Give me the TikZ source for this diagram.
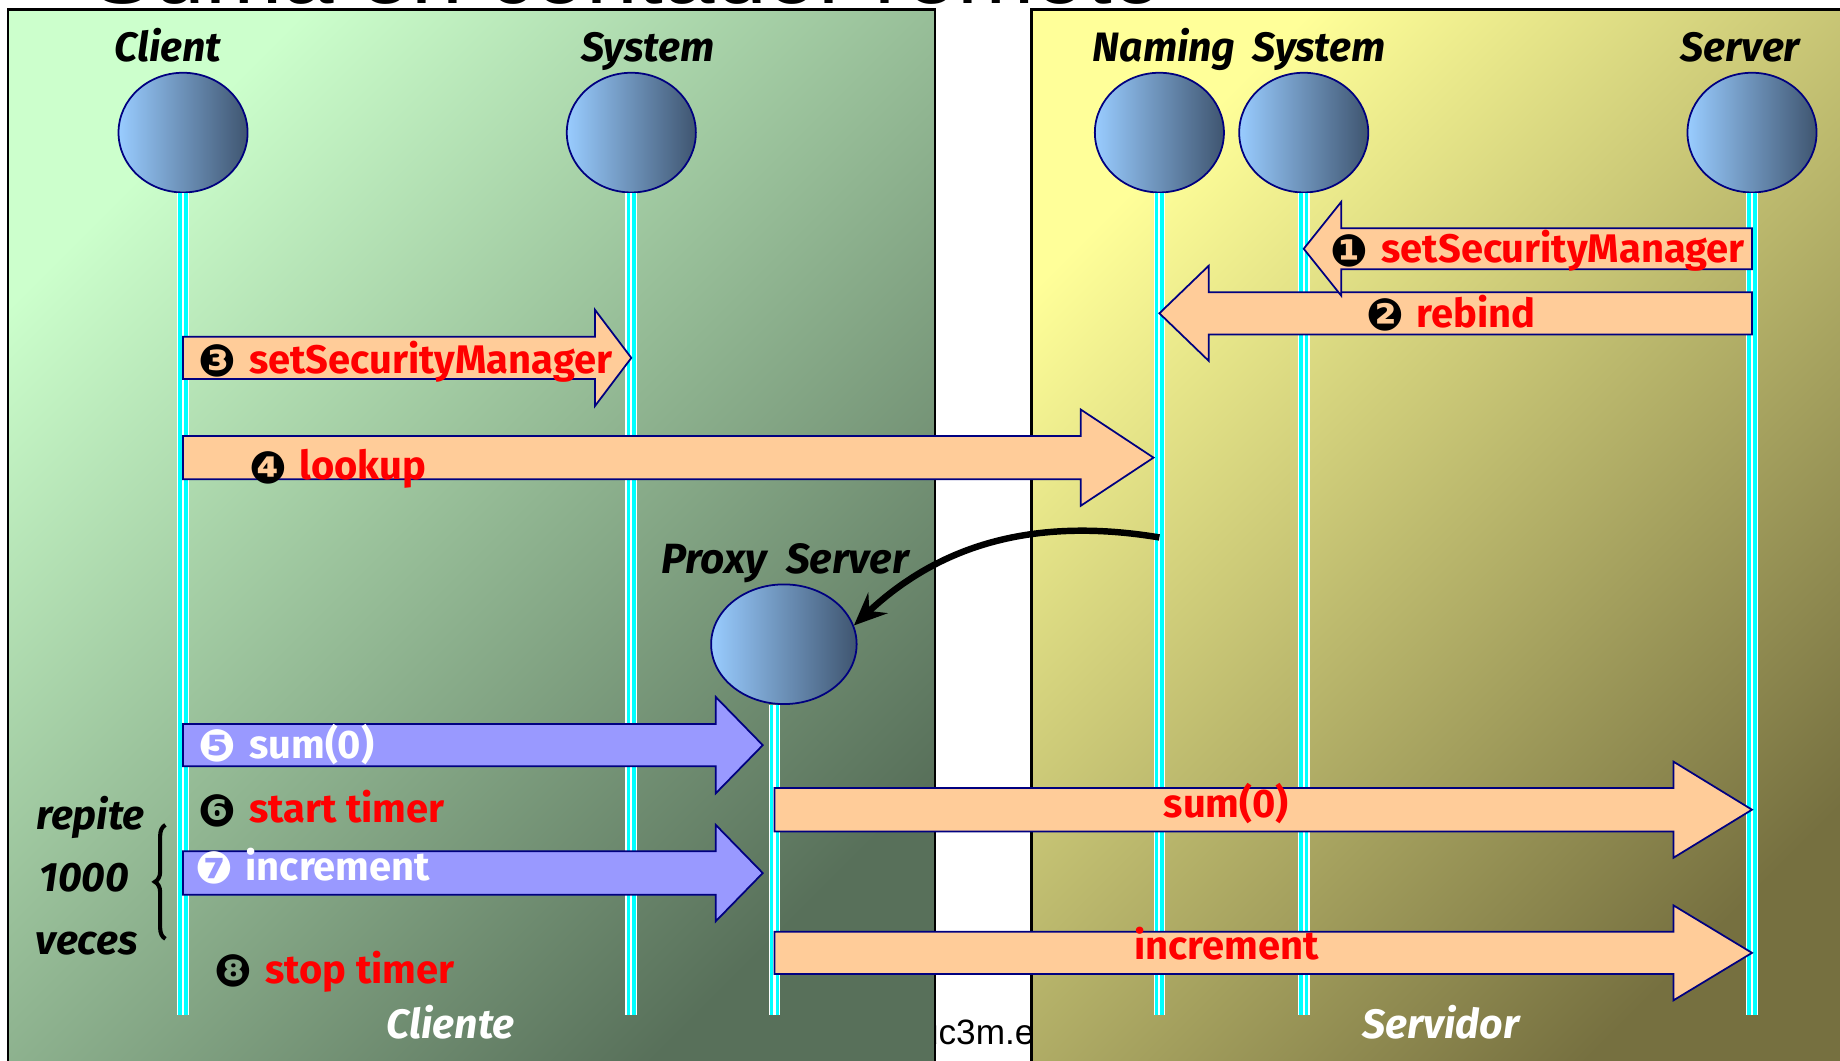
\documentclass[tikz,border=0pt]{standalone}
\usepackage{fontspec}
\setmainfont{Liberation Sans}
\newfontfamily\hand{Fira Sans}
\newfontfamily\dingf{DejaVu Sans}
\usetikzlibrary{shapes.geometric, arrows.meta, calc, decorations.pathreplacing}

\definecolor{peach}{HTML}{FFCC99}
\definecolor{lavender}{HTML}{9999FF}
\definecolor{navy}{HTML}{000080}
\definecolor{ballL}{HTML}{99CCFF}
\definecolor{ballR}{HTML}{3F5570}
\definecolor{lifecyan}{HTML}{00FFFF}
\definecolor{panelGL}{HTML}{CCFFCC}
\definecolor{panelGD}{HTML}{58705A}
\definecolor{panelYL}{HTML}{FFFF99}
\definecolor{panelYD}{HTML}{767040}

% numbered bullet in front of a message text
\newcommand\num[2][black]{\raisebox{-3pt}{\dingf\fontsize{38}{38}\selectfont\textcolor{#1}{#2}}\hspace{11pt}}

% lifeline: white/cyan striped vertical line below an actor
\newcommand\lifeline[1]{%
  \draw[white, line width=10pt] (#1) -- (#1 |- 0,865);
  \draw[lifecyan, line width=8pt] (#1) -- (#1 |- 0,865);
  \draw[white, line width=1.8pt] (#1) -- (#1 |- 0,865);}

% block arrow: style, tail, tip, y, half shaft, half head, head length
\newcommand\blockarrow[7]{%
  \path[#1] let \p1=(#2), \p2=(#3), \p3=(0,#4), \n1={sign(\x2-\x1)*#7} in
    (\x1,\y3+#5pt) -- (\x2-\n1,\y3+#5pt) -- (\x2-\n1,\y3+#6pt) -- (\x2,\y3)
    -- (\x2-\n1,\y3-#6pt) -- (\x2-\n1,\y3-#5pt) -- (\x1,\y3-#5pt) -- cycle;}

\tikzset{
  actor/.style={ellipse, draw=navy, line width=1.5pt, left color=ballL, right color=ballR,
    minimum width=110pt, minimum height=102pt, inner sep=0pt},
  actorname/.style={anchor=base, inner sep=0pt, font=\hand\bfseries\itshape\fontsize{35}{35}\selectfont},
  msg/.style={draw=navy, line width=1.5pt, fill=peach},
  callmsg/.style={draw=navy, line width=1.5pt, fill=lavender},
  lbl/.style={anchor=base west, inner sep=0pt, text=red, font=\hand\bfseries\fontsize{34}{34}\selectfont},
  wlbl/.style={lbl, text=white},
  panel/.style={draw=black, line width=2pt, shading angle=45},
}

\begin{document}
\begin{tikzpicture}[x=1pt, y=-1pt]
\clip (0,0) rectangle (1568,904);

% heading and web address behind the panels
\node[anchor=base west, inner sep=0pt, font=\fontsize{79}{79}\selectfont] (title) at (78,3) {Suma en contador remoto};
\node[anchor=base west, inner sep=0pt, font=\fontsize{30}{30}\selectfont] (web) at (783,890) {uc3m.es};

% client and server sides
\path[panel, top color=panelGL, bottom color=panelGD, shading angle=45] (7,8) rectangle (797,915);
\path[panel, top color=panelYL, bottom color=panelYD, shading angle=45] (879,8) rectangle (1580,915);

% actors
\node[actor] (cl) at (156,113) {};
\node[actor] (sysL) at (538,113) {};
\node[actor] (nm) at (988,113) {};
\node[actor] (sysR) at (1111,113) {};
\node[actor] (sv) at (1493,113) {};
\node[actor, minimum width=124pt] (px) at (668,549) {};

\node[actorname] (clT) at (143,52) {Client};
\node[actorname] (sysLT) at (552,52) {System};
\node[actorname] (nmT) at (992,52) {Naming};
\node[actorname] (sysRT) at (1124,52) {System};
\node[actorname] (svT) at (1483,52) {Server};
\node[actorname, font=\hand\bfseries\itshape\fontsize{36}{36}\selectfont] (pxT) at (669,489) {Proxy\ \ Server};

% lifelines
\coordinate (pxl) at ([xshift=-8pt]px.south);
\lifeline{cl.south}
\lifeline{sysL.south}
\lifeline{nm.south}
\lifeline{sysR.south}
\lifeline{sv.south}
\lifeline{pxl}

% messages
\blockarrow{msg}{sv}{nm}{267}{18}{40.5}{42}
\blockarrow{msg}{sv}{sysR}{212}{17.5}{40}{32}
\blockarrow{msg}{cl}{sysL}{305}{18}{41}{31}
\blockarrow{msg}{cl}{[xshift=-5pt]nm}{390}{18.5}{41}{62}
\blockarrow{callmsg}{cl}{[xshift=-10pt]pxl}{635}{18}{41}{40}
\blockarrow{msg}{pxl}{sv}{690}{18.5}{41}{67}
\blockarrow{callmsg}{cl}{[xshift=-10pt]pxl}{744}{18.5}{41}{40}
\blockarrow{msg}{pxl}{sv}{812}{18}{40.5}{67}

\node[lbl] (m1) at (1134,224) {\num{❶}setSecurityManager};
\node[lbl] (m2) at (1164,279) {\num{❷}rebind};
\node[lbl] (m3) at (169,318) {\num{❸}setSecurityManager};
\node[lbl] (m4) at (212,409) {\num{❹}lookup};
\node[wlbl] (m5) at (169,646) {\num[white]{❺}sum(0)};
\node[lbl] (m6) at (169,701) {\num{❻}start timer};
\node[wlbl] (m7) at (166,750) {\num[white]{❼}increment};
\node[lbl] (m8) at (183,838) {\num{❽}stop timer};
\node[lbl, anchor=base] (m6s) at (1045,697) {sum(0)};
\node[lbl, anchor=base] (m8s) at (1045,818) {increment};

% repetition note
\node[actorname] (rep1) at (77,707) {repite};
\node[actorname] (rep2) at (72,760) {1000};
\node[actorname] (rep3) at (74,813) {veces};
\coordinate (brB) at (141,800);
\coordinate (brT) at (141,703);
\draw[decorate, decoration={brace, amplitude=9pt}, line width=3.5pt] (brB) -- (brT);

% remote reference handed back by the naming service
\coordinate (ref) at (nm |- 0,458);
\draw[line width=5.5pt, -{Stealth[length=28pt, width=24pt, inset=10pt]}]
  (ref) .. controls (880,440) and (800,465) .. (px.15);

% side captions
\node[actorname, text=white] (cliT) at (384,885) {Cliente};
\node[actorname, text=white] (srvT) at (1228,885) {Servidor};
\end{tikzpicture}
\end{document}
